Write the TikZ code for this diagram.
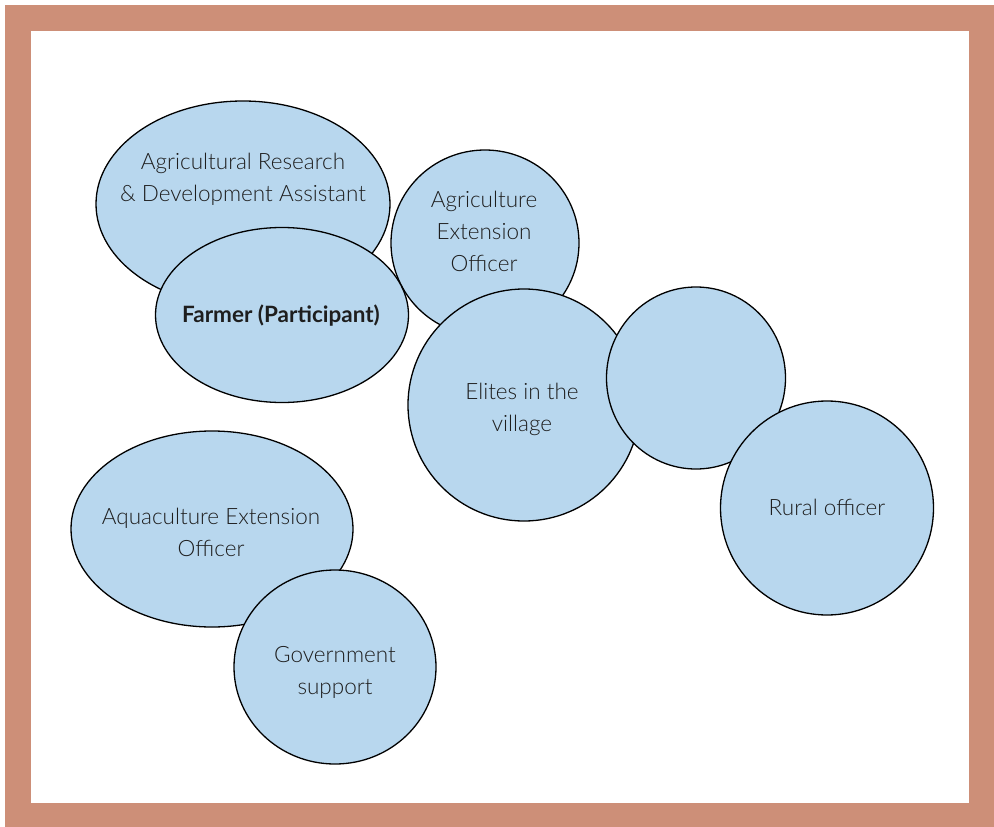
\documentclass[tikz,border=0pt]{standalone}
\usepackage{fontspec}
\setmainfont{Lato}[UprightFont=* Light, BoldFont=* Bold]
\usetikzlibrary{shapes.geometric}
\definecolor{frame}{HTML}{CD8F78}
\definecolor{bubble}{HTML}{B8D7EE}
\definecolor{ink}{HTML}{1E1E1E}
\begin{document}
\begin{tikzpicture}[x=1pt,y=-1pt,
  bub/.style={ellipse,draw=black,line width=1.3pt,fill=bubble,inner sep=0pt},
  lbl/.style={align=center,text=ink,font=\fontsize{22.5}{32}\selectfont,inner sep=0pt}]
\useasboundingbox (0,0) rectangle (994,827);
\fill[frame] (5,5) rectangle (994,827);
\fill[white] (31,31) rectangle (969,803);
% shapes
\node[bub,minimum width=294pt,minimum height=206pt] (rd) at (243,204) {};
\node[bub,minimum width=188pt,minimum height=186pt] (ext) at (485,243) {};
\node[bub,minimum width=253pt,minimum height=175pt] (farmer) at (282,315) {};
\node[bub,minimum width=232pt,minimum height=232pt] (elite) at (524,405) {};
\node[bub,minimum width=179pt,minimum height=182pt] (blank) at (696,378) {};
\node[bub,minimum width=213pt,minimum height=214pt] (rural) at (827,508) {};
\node[bub,minimum width=282pt,minimum height=196pt] (aqua) at (212,529) {};
\node[bub,minimum width=202pt,minimum height=194pt] (gov) at (335,667) {};
% labels
\node[lbl] (rdt) at (243,179) {Agricultural Research\\\& Development Assistant};
\node[lbl,font=\fontsize{22.5}{32}\selectfont\bfseries] (fat) at (281,316) {Farmer (Participant)};
\node[lbl] (extt) at (484,231) {Agriculture\\Extension\\Officer};
\node[lbl] (elitet) at (522,409) {Elites in the\\village};
\node[lbl] (ruralt) at (827,507) {Rural officer};
\node[lbl] (aquat) at (211,532) {Aquaculture Extension\\Officer};
\node[lbl] (govt) at (335,672) {Government\\support};
\end{tikzpicture}
\end{document}
